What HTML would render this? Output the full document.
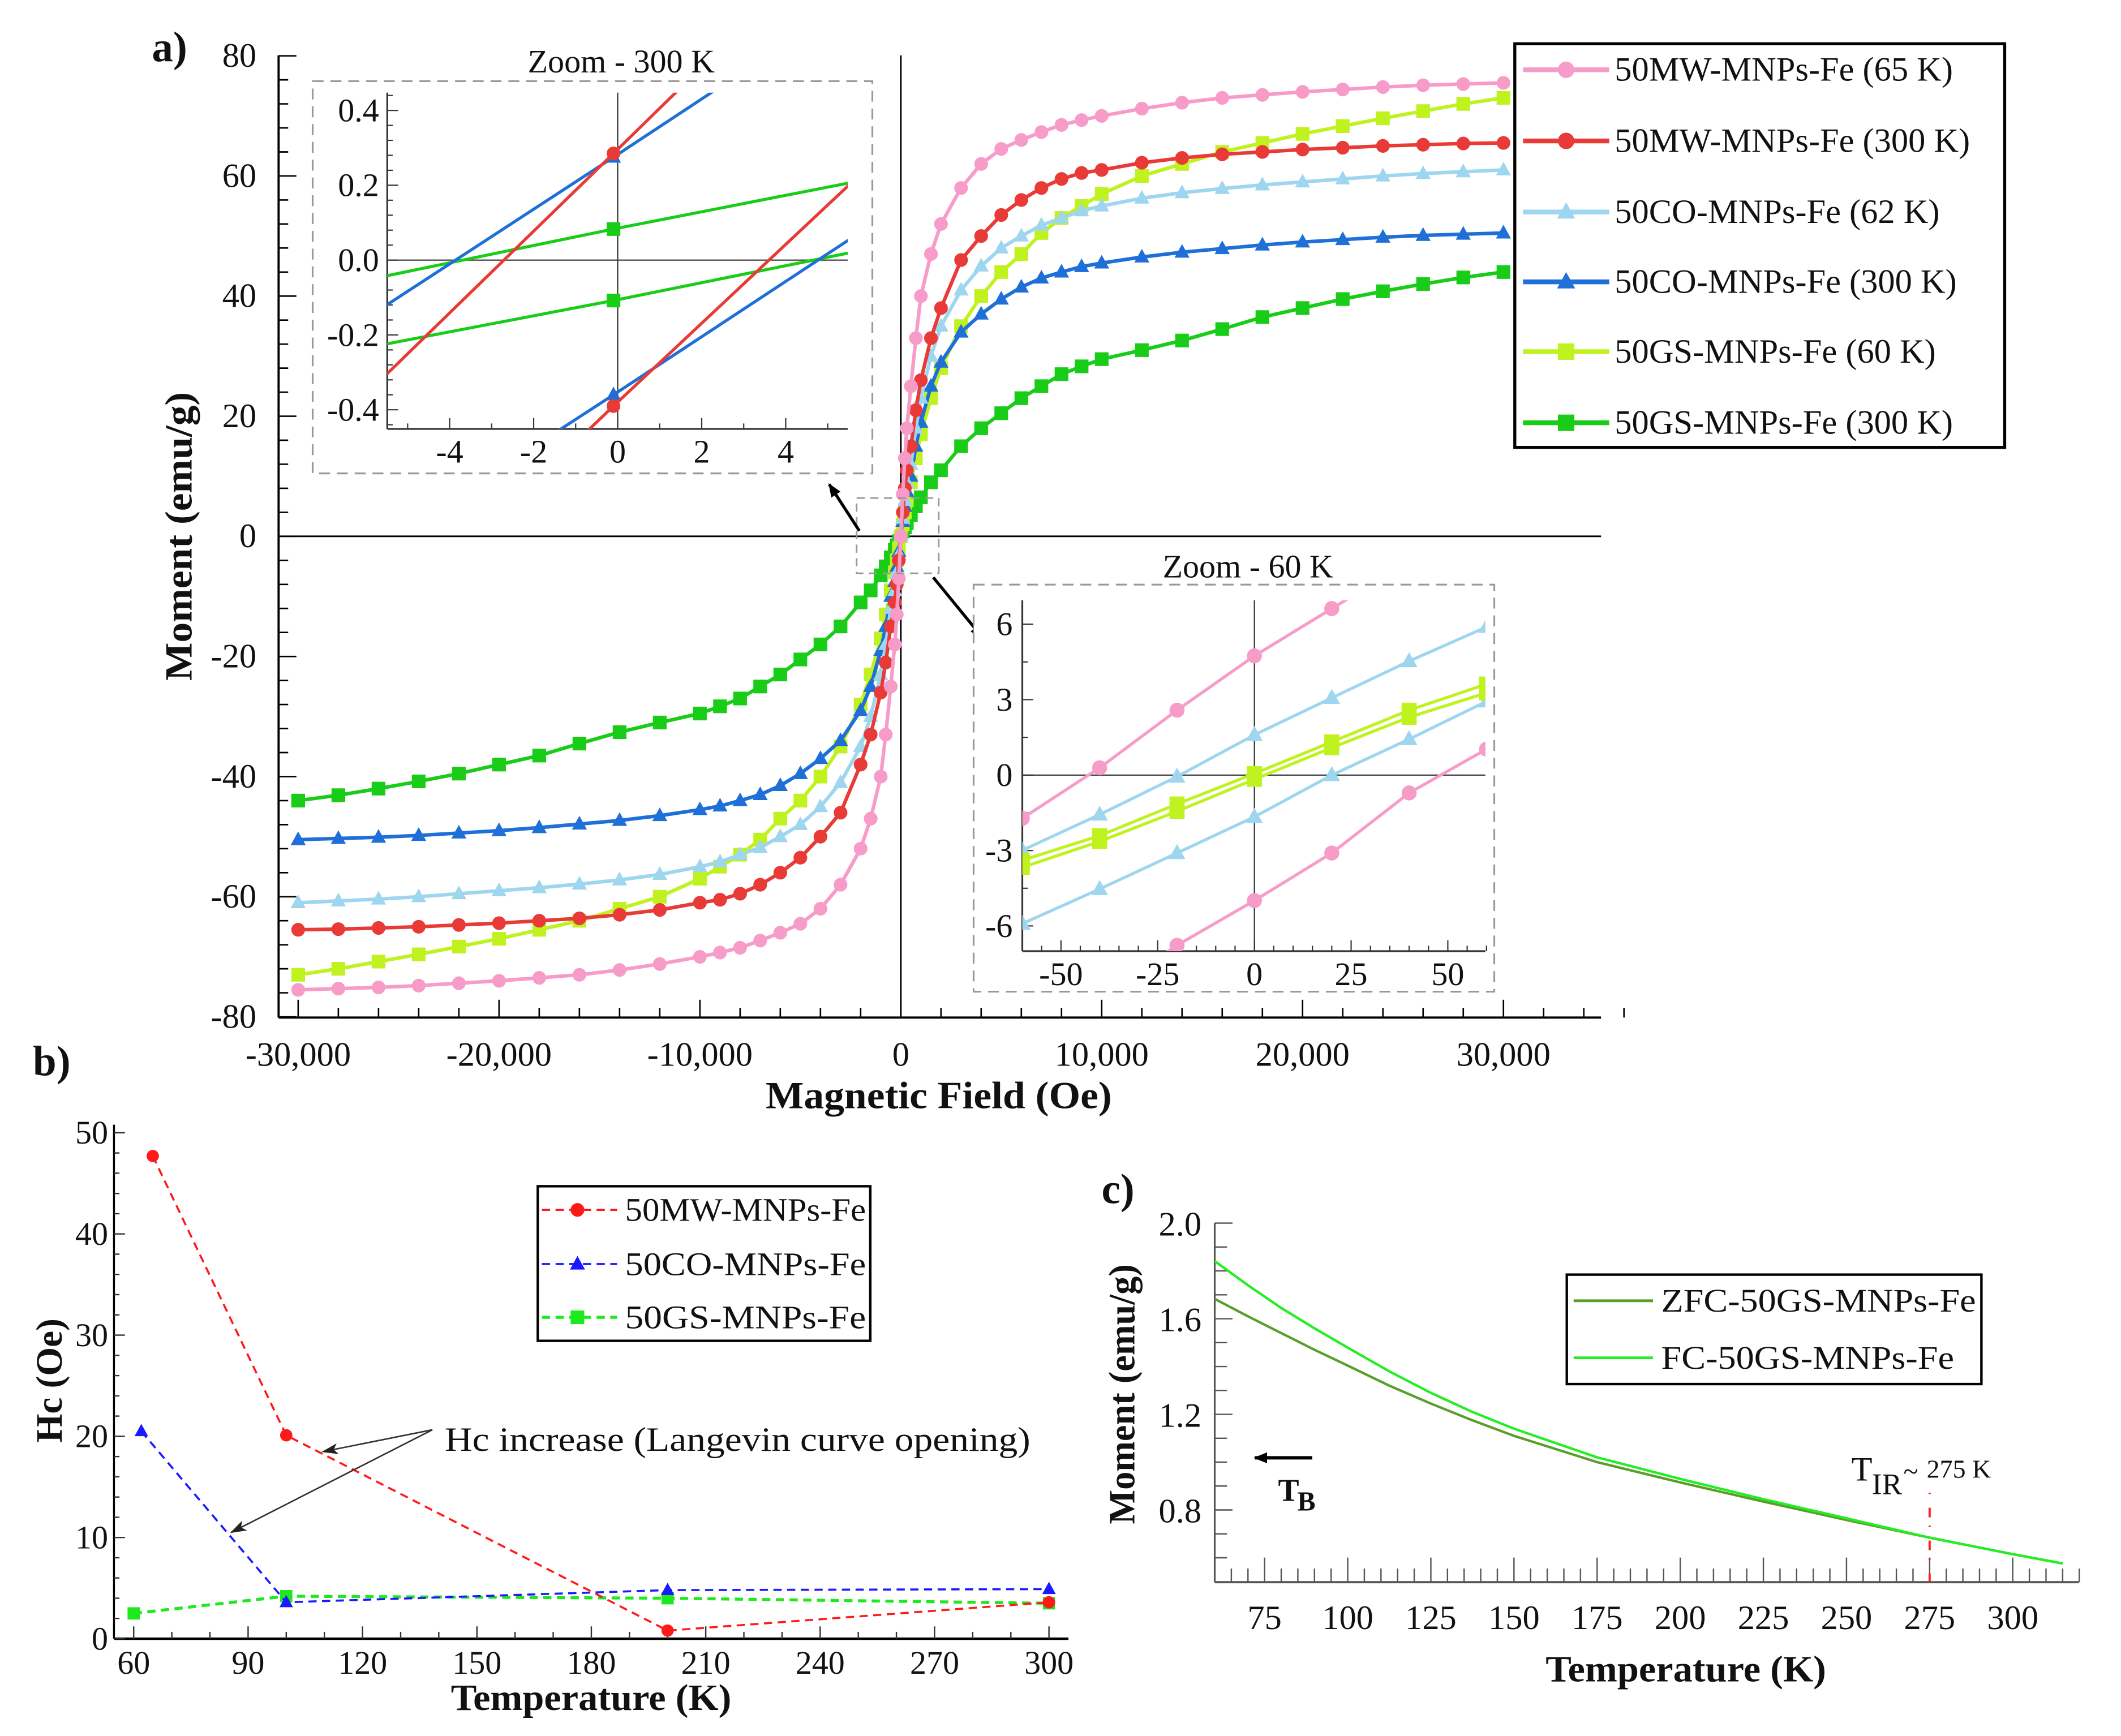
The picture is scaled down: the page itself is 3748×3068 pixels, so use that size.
<!DOCTYPE html>
<html><head><meta charset="utf-8"><style>
html,body{margin:0;padding:0;background:#fff;}
svg, svg text{font-family:"Liberation Serif","DejaVu Serif",serif;}
</style></head><body>
<svg id="chart" xmlns="http://www.w3.org/2000/svg" width="3748" height="3063" viewBox="0 0 1550 1266.75" preserveAspectRatio="none" font-family="Liberation Serif, DejaVu Serif, serif">
<defs>
<clipPath id="clip1"><rect x="283" y="67.7" width="336.5" height="245.8"/></clipPath>
<clipPath id="clip2"><rect x="747.1" y="438.8" width="338.4" height="256.4"/></clipPath>
<marker id="ah" markerWidth="10" markerHeight="8" refX="9" refY="4" orient="auto" markerUnits="userSpaceOnUse"><path d="M0,0 L10,4 L0,8 Z" fill="#000"/></marker>
<marker id="ahs" markerWidth="12" markerHeight="8" refX="11" refY="4" orient="auto" markerUnits="userSpaceOnUse"><path d="M0,0 L12,4 L0,8 L3,4 Z" fill="#222"/></marker>
</defs>
<g id="g"></g>
</svg>
<script>
// ===== Panel a data =====
const fieldOe = [0,100,200,300,500,750,1000,1500,2000,3000,4000,5000,6000,7000,8000,9000,10000,12000,14000,16000,18000,20000,22000,24000,26000,28000,30000];
const mw65 = [0,7,13,18,25,33,40,47,52,58,62,64.5,66,67.3,68.5,69.3,70,71.2,72.2,73,73.5,74,74.4,74.8,75.1,75.3,75.5];
const mw300 = [0,4,8,11,15,21,26,33,38,46,50,53.5,56,58,59.5,60.5,61,62.2,63,63.6,64,64.4,64.7,65,65.2,65.4,65.5];
const co62 = [0,3,6,9,12,18,23,30,35,41,45,48,50,51.8,53,54.2,55,56.3,57.2,57.9,58.5,59,59.5,60,60.4,60.7,61];
const co300 = [0,2.5,5,7.5,10,15,19,25,29,34,37,39.5,41.5,43,44,44.9,45.5,46.5,47.3,47.9,48.5,49,49.4,49.8,50.1,50.3,50.5];
const gs60 = [0,2,4,6,9,13,17,23,28,35,40,44,47,50.5,53,55,57,60,62,64,65.5,67,68.3,69.6,70.8,72,73];
const gs300 = [0,0.8,1.5,2.2,3.5,5,6.5,9,11,15,18,20.5,23,25,27,28.3,29.5,31,32.6,34.5,36.5,38,39.5,40.8,42,43.1,44];
const aXTicks = [-30000,-20000,-10000,0,10000,20000,30000];
const aXTickLabels = ['-30,000','-20,000','-10,000','0','10,000','20,000','30,000'];
const aYTicks = [80,60,40,20,0,-20,-40,-60,-80];
const legendALabels = ['50MW-MNPs-Fe (65 K)','50MW-MNPs-Fe (300 K)','50CO-MNPs-Fe (62 K)','50CO-MNPs-Fe (300 K)','50GS-MNPs-Fe (60 K)','50GS-MNPs-Fe (300 K)'];
// inset 300 K
const in1Field = [-5.5,-0.1,5.5];
const in1RedUp = [-0.305,0.285,0.90];
const in1RedLow = [-0.97,-0.39,0.20];
const in1BlueUp = [-0.12,0.275,0.69];
const in1BlueLow = [-0.754,-0.36,0.054];
const in1GreenUp = [-0.042,0.083,0.206];
const in1GreenLow = [-0.224,-0.108,0.019];
const in1XTicks = [-4,-2,0,2,4];
const in1YTicks = [0.4,0.2,0.0,-0.2,-0.4];
// inset 60 K
const in2Field = [-60,-40,-20,0,20,40,60];
const in2PinkUp = [-1.72,0.29,2.58,4.74,6.62,8.5,10.4];
const in2PinkLow = [-10.8,-8.8,-6.77,-4.99,-3.1,-0.71,1.03];
const in2LbUp = [-2.99,-1.57,-0.06,1.6,3.07,4.53,5.89];
const in2LbLow = [-5.91,-4.53,-3.1,-1.66,0,1.43,2.93];
const in2YgUp = [-3.39,-2.41,-1.15,0.06,1.32,2.58,3.62];
const in2YgLow = [-3.67,-2.64,-1.44,-0.17,1.09,2.30,3.27];
const in2XTicks = [-50,-25,0,25,50];
const in2YTicks = [6,3,0,-3,-6];
// ===== Panel b data =====
const bTempMW = [65,100,200,300];
const bHcMW = [47.7,20.1,0.8,3.6];
const bTempCO = [62,100,200,300];
const bHcCO = [20.5,3.6,4.8,4.9];
const bTempGS = [60,100,200,300];
const bHcGS = [2.5,4.2,4.0,3.5];
const bXTicks = [60,90,120,150,180,210,240,270,300];
const bYTicks = [0,10,20,30,40,50];
const legendBLabels = ['50MW-MNPs-Fe','50CO-MNPs-Fe','50GS-MNPs-Fe'];
// ===== Panel c data =====
const cTemp = [60,70,80,90,100,112.5,125,137.5,150,175,200,225,250,275,300,315];
const cFC = [1.841,1.74,1.645,1.56,1.479,1.38,1.29,1.21,1.14,1.02,0.93,0.845,0.765,0.684,0.615,0.576];
const cZFC = [1.683,1.61,1.54,1.47,1.404,1.32,1.245,1.175,1.11,1.0,0.915,0.835,0.758,0.684,0.615,0.576];
const cXTicks = [75,100,125,150,175,200,225,250,275,300];
const cYTicks = [2.0,1.6,1.2,0.8];

const NS='http://www.w3.org/2000/svg';
const FONT='"Liberation Serif", "DejaVu Serif", serif';
const root=document.getElementById('g');
function mk(tag,attrs,parent){const e=document.createElementNS(NS,tag);for(const k in attrs)e.setAttribute(k,attrs[k]);(parent||root).appendChild(e);return e;}
function txt(x,y,s,size,opts,parent){const o=Object.assign({x:x,y:y,'font-size':size,fill:'#111','font-family':FONT},opts||{});const t=mk('text',o,parent);t.style.fontFamily=FONT;t.textContent=s;return t;}
function marker(shape,x,y,r,color,parent){
  let e;
  if(shape==='circle') e=mk('circle',{cx:x,cy:y,r:r,fill:color},parent);
  else if(shape==='tri') e=mk('polygon',{points:`${x},${y-r*1.2} ${x-r*1.1},${y+r*0.8} ${x+r*1.1},${y+r*0.8}`,fill:color},parent);
  else e=mk('rect',{x:x-r,y:y-r,width:2*r,height:2*r,fill:color},parent);
  return e;
}

// ================= PANEL A =================
const ax=H=>658.3+H*0.01468;
const ay=M=>392-M*4.39;
let el;
el=txt(111,44.6,'a)',31,{'font-weight':'bold'});


el=mk('line',{x1:203.6,y1:40.5,x2:203.6,y2:743.7,stroke:'#000','stroke-width':1.6});


el=mk('line',{x1:203.6,y1:743.7,x2:1170,y2:743.7,stroke:'#000','stroke-width':1.6});


el=mk('line',{x1:203.6,y1:ay(0),x2:1170,y2:ay(0),stroke:'#000','stroke-width':1.2});


el=mk('line',{x1:ax(0),y1:40.5,x2:ax(0),y2:743.7,stroke:'#000','stroke-width':1.2});


for(let v=-80;v<=80;v+=4){const maj=v%20===0;const t=mk('line',{x1:203.6,y1:ay(v),x2:203.6+(maj?13:7),y2:ay(v),stroke:'#000','stroke-width':1.1});}
aYTicks.forEach(v=>{const t=txt(187.4,ay(v)+8,String(v),25,{'text-anchor':'end'});});
for(let h=-30000;h<=36000;h+=2000){const maj=h%10000===0;const t=mk('line',{x1:ax(h),y1:743.7,x2:ax(h),y2:743.7-(maj?13:7),stroke:'#000','stroke-width':1.1});}
aXTicks.forEach((h,i)=>{const t=txt(ax(h),779,aXTickLabels[i],25,{'text-anchor':'middle'});});
el=txt(686,810,'Magnetic Field (Oe)',28,{'text-anchor':'middle','font-weight':'bold',textLength:253,lengthAdjust:'spacingAndGlyphs'});


el=txt(0,0,'Moment (emu/g)',28,{'text-anchor':'middle','font-weight':'bold',transform:'translate(140,392) rotate(-90)',textLength:211,lengthAdjust:'spacingAndGlyphs'});



const seriesA=[
 {name:'mw65',data:mw65,color:'#f79bc8',shape:'circle'},
 {name:'mw300',data:mw300,color:'#e83a36',shape:'circle'},
 {name:'co62',data:co62,color:'#9ed6f0',shape:'tri'},
 {name:'co300',data:co300,color:'#1f6fd8',shape:'tri'},
 {name:'gs60',data:gs60,color:'#bff21f',shape:'sq'},
 {name:'gs300',data:gs300,color:'#18cc18',shape:'sq'}
];
[5,4,3,2,1,0].forEach(si=>{
  const s=seriesA[si];
  const pts=[];
  for(let i=fieldOe.length-1;i>0;i--) pts.push([-fieldOe[i],-s.data[i]]);
  for(let i=0;i<fieldOe.length;i++) pts.push([fieldOe[i],s.data[i]]);
  const g=mk('g',{});
  
  
  const pl=mk('polyline',{points:pts.map(p=>ax(p[0])+','+ay(p[1])).join(' '),fill:'none',stroke:s.color,'stroke-width':2.6},g);
  
  
  pts.forEach(p=>{const m=marker(s.shape,ax(p[0]),ay(p[1]),5,s.color,g);});
});

el=mk('rect',{x:1107,y:32,width:358,height:295,fill:'#fff',stroke:'#000','stroke-width':2.2});


const legYs=[51,103,155,206,257,309];
seriesA.forEach((s,i)=>{
  const y=legYs[i];
  const l=mk('line',{x1:1113,y1:y,x2:1176,y2:y,stroke:s.color,'stroke-width':3.5});
  
  
  const m=marker(s.shape,1144.5,y,6,s.color);
  
  
  const t=txt(1180,y+8,legendALabels[i],25,{});
  
  
});

el=mk('rect',{x:626,y:364,width:60,height:55,fill:'none',stroke:'#999','stroke-width':1.2,'stroke-dasharray':'6,4'});


el=mk('line',{x1:628,y1:388,x2:606,y2:354,stroke:'#000','stroke-width':2.2,'marker-end':'url(#ah)'});


el=mk('line',{x1:682,y1:422,x2:718,y2:466,stroke:'#000','stroke-width':2.2,'marker-end':'url(#ah)'});



// ---- inset 1 ----
const i1x=H=>451.4+H*30.7;
const i1y=M=>190.1-M*273.5;
const in1=mk('g',{});


el=mk('rect',{x:228.5,y:59.3,width:409,height:286.7,fill:'#fff',stroke:'#999','stroke-width':1.3,'stroke-dasharray':'8,5'},in1);


el=txt(454,53,'Zoom - 300 K',24,{'text-anchor':'middle'},in1);


el=mk('line',{x1:283,y1:67.7,x2:283,y2:313.5,stroke:'#333','stroke-width':1.3},in1);


el=mk('line',{x1:283,y1:313.5,x2:619.5,y2:313.5,stroke:'#333','stroke-width':1.3},in1);


el=mk('line',{x1:283,y1:i1y(0),x2:619.5,y2:i1y(0),stroke:'#333','stroke-width':0.9},in1);


el=mk('line',{x1:i1x(0),y1:67.7,x2:i1x(0),y2:313.5,stroke:'#333','stroke-width':0.9},in1);


for(let v=-0.44;v<=0.441;v+=0.04){const maj=Math.abs(Math.round(v*100)%20)===0;const t=mk('line',{x1:283,y1:i1y(v),x2:283+(maj?8:4),y2:i1y(v),stroke:'#333','stroke-width':0.9},in1);}
for(let h=-5;h<=5;h+=1){const maj=h%2===0;const t=mk('line',{x1:i1x(h),y1:313.5,x2:i1x(h),y2:313.5-(maj?8:4),stroke:'#333','stroke-width':0.9},in1);}
in1YTicks.forEach(v=>{const t=txt(277,i1y(v)+8,v.toFixed(1),24,{'text-anchor':'end'},in1);});
in1XTicks.forEach(h=>{const t=txt(i1x(h),338,String(h),24,{'text-anchor':'middle'},in1);});
const in1Series=[['green-up',in1GreenUp,'#18cc18','sq'],['green-low',in1GreenLow,'#18cc18','sq'],['blue-up',in1BlueUp,'#1f6fd8','tri'],['blue-low',in1BlueLow,'#1f6fd8','tri'],['red-up',in1RedUp,'#e83a36','circle'],['red-low',in1RedLow,'#e83a36','circle']];
const c1=mk('g',{'clip-path':'url(#clip1)'},in1);


in1Series.forEach(s=>{
  const pl=mk('polyline',{points:in1Field.map((h,i)=>i1x(h)+','+i1y(s[1][i])).join(' '),fill:'none',stroke:s[2],'stroke-width':2.2},c1);
  
  
  const m=marker(s[3],i1x(in1Field[1]),i1y(s[1][1]),5,s[2],c1);
  
  
});

// ---- inset 2 ----
const i2x=H=>916.7+H*2.827;
const i2y=M=>566.5-M*18.38;
const in2=mk('g',{});


el=mk('rect',{x:711.5,y:427.3,width:380.5,height:297.5,fill:'#fff',stroke:'#999','stroke-width':1.3,'stroke-dasharray':'8,5'},in2);


el=txt(912,422,'Zoom - 60 K',24,{'text-anchor':'middle'},in2);


el=mk('line',{x1:747.1,y1:438.8,x2:747.1,y2:695.2,stroke:'#333','stroke-width':1.3},in2);


el=mk('line',{x1:747.1,y1:695.2,x2:1085.5,y2:695.2,stroke:'#333','stroke-width':1.3},in2);


el=mk('line',{x1:747.1,y1:i2y(0),x2:1085.5,y2:i2y(0),stroke:'#333','stroke-width':0.9},in2);


el=mk('line',{x1:i2x(0),y1:438.8,x2:i2x(0),y2:695.2,stroke:'#333','stroke-width':0.9},in2);


for(let v=-6;v<=6;v+=1.5){const maj=v%3===0;const t=mk('line',{x1:747.1,y1:i2y(v),x2:747.1+(maj?8:4),y2:i2y(v),stroke:'#333','stroke-width':0.9},in2);}
for(let h=-55;h<=60;h+=5){const maj=h%25===0;const t=mk('line',{x1:i2x(h),y1:695.2,x2:i2x(h),y2:695.2-(maj?8:4),stroke:'#333','stroke-width':0.9},in2);}
in2YTicks.forEach(v=>{const t=txt(740,i2y(v)+8,String(v),24,{'text-anchor':'end'},in2);});
in2XTicks.forEach(h=>{const t=txt(i2x(h),720,String(h),24,{'text-anchor':'middle'},in2);});
const in2Series=[['pink-up',in2PinkUp,'#f79bc8','circle'],['pink-low',in2PinkLow,'#f79bc8','circle'],['lightblue-up',in2LbUp,'#9ed6f0','tri'],['lightblue-low',in2LbLow,'#9ed6f0','tri'],['yellowgreen-up',in2YgUp,'#bff21f','sq'],['yellowgreen-low',in2YgLow,'#bff21f','sq']];
const c2=mk('g',{'clip-path':'url(#clip2)'},in2);


in2Series.forEach(s=>{
  const pl=mk('polyline',{points:in2Field.map((h,i)=>i2x(h)+','+i2y(s[1][i])).join(' '),fill:'none',stroke:s[2],'stroke-width':2.2},c2);
  
  
  in2Field.forEach((h,i)=>{const m=marker(s[3],i2x(h),i2y(s[1][i]),5.5,s[2],c2);});
});

// ================= PANEL B =================
const bx=T=>97.7+(T-60)*2.787;
const by=H=>1197.7-H*7.396;
el=txt(24,786,'b)',31,{'font-weight':'bold'});


el=mk('line',{x1:83.3,y1:822,x2:83.3,y2:1197.7,stroke:'#000','stroke-width':1.4});


el=mk('line',{x1:83.3,y1:1197.7,x2:780.8,y2:1197.7,stroke:'#000','stroke-width':1.8});


for(let v=0;v<=50;v+=2){const maj=v%10===0;const t=mk('line',{x1:83.3,y1:by(v),x2:83.3+(maj?8:4),y2:by(v),stroke:'#333','stroke-width':1});}
for(let T=60;T<=305;T+=10){const maj=(T-60)%30===0;const t=mk('line',{x1:bx(T),y1:1197.7,x2:bx(T),y2:1197.7-(maj?9:5),stroke:'#333','stroke-width':1});}
bYTicks.forEach(v=>{const t=txt(79,by(v)+8,String(v),24,{'text-anchor':'end'});});
bXTicks.forEach(T=>{const t=txt(bx(T),1223.3,String(T),24,{'text-anchor':'middle'});});
el=txt(432,1249.7,'Temperature (K)',27,{'text-anchor':'middle','font-weight':'bold',textLength:205,lengthAdjust:'spacingAndGlyphs'});


el=txt(0,0,'Hc (Oe)',27,{'text-anchor':'middle','font-weight':'bold',transform:'translate(45,1009) rotate(-90)'});


const seriesB=[['mw',bTempMW,bHcMW,'#ff1a1a','circle'],['co',bTempCO,bHcCO,'#1a1aff','tri'],['gs',bTempGS,bHcGS,'#1ee81e','sq']];
[2,1,0].forEach(i=>{
  const s=seriesB[i];
  const g=mk('g',{});
  
  
  const pl=mk('polyline',{points:s[1].map((T,j)=>bx(T)+','+by(s[2][j])).join(' '),fill:'none',stroke:s[3],'stroke-width':s[0]==='gs'?2.2:1.5,'stroke-dasharray':'6,4'},g);
  
  
  s[1].forEach((T,j)=>{const m=marker(s[4],bx(T),by(s[2][j]),4.5,s[3],g);});
});
el=mk('rect',{x:393,y:867,width:243,height:113,fill:'#fff',stroke:'#000','stroke-width':1.8});


const legBYs=[884.3,923.9,962.8];
seriesB.forEach((s,i)=>{
  const y=legBYs[i];
  const l=mk('line',{x1:396,y1:y,x2:451,y2:y,stroke:s[3],'stroke-width':s[0]==='gs'?2.2:1.5,'stroke-dasharray':'6,4'});
  
  
  const m=marker(s[4],422,y,5,s[3]);
  
  
  const t=txt(456.8,y+8,legendBLabels[i],24,{textLength:176,lengthAdjust:'spacingAndGlyphs'});
  
  
});
el=txt(325,1060.4,'Hc increase (Langevin curve opening)',25,{textLength:428,lengthAdjust:'spacingAndGlyphs'});


el=mk('line',{x1:316,y1:1045,x2:236,y2:1061,stroke:'#333','stroke-width':1.1,'marker-end':'url(#ahs)'});


el=mk('line',{x1:316,y1:1045,x2:169,y2:1120,stroke:'#333','stroke-width':1.1,'marker-end':'url(#ahs)'});



// ================= PANEL C =================
const cx=T=>887.7+(T-60)*2.43;
const cy=M=>1103.6-(M-0.8)*174.7;
el=txt(805,879.5,'c)',31,{'font-weight':'bold'});


el=mk('line',{x1:887.7,y1:894,x2:887.7,y2:1156.4,stroke:'#555','stroke-width':1.3});


el=mk('line',{x1:887.7,y1:1156.4,x2:1519.3,y2:1156.4,stroke:'#555','stroke-width':1.6});


for(let k=0;k<=14;k++){const v=2.0-k*0.1;const maj=k%4===0;const t=mk('line',{x1:887.7,y1:cy(v),x2:887.7+(maj?13:9),y2:cy(v),stroke:'#555','stroke-width':1});}
for(let T=65;T<=320;T+=5){const maj=T%25===0;const t=mk('line',{x1:cx(T),y1:1156.4,x2:cx(T),y2:1156.4-(maj?18:10),stroke:'#555','stroke-width':1});}
cYTicks.forEach(v=>{const t=txt(878,cy(v)+9,v.toFixed(1),25,{'text-anchor':'end'});});
cXTicks.forEach(T=>{const t=txt(cx(T),1190.7,String(T),25,{'text-anchor':'middle'});});
el=txt(1232,1229,'Temperature (K)',27,{'text-anchor':'middle','font-weight':'bold',textLength:205,lengthAdjust:'spacingAndGlyphs'});


el=txt(0,0,'Moment (emu/g)',27,{'text-anchor':'middle','font-weight':'bold',transform:'translate(829,1019) rotate(-90)',textLength:190,lengthAdjust:'spacingAndGlyphs'});


el=mk('polyline',{points:cTemp.map((T,i)=>cx(T)+','+cy(cZFC[i])).join(' '),fill:'none',stroke:'#5a9e2a','stroke-width':1.8});


el=mk('polyline',{points:cTemp.map((T,i)=>cx(T)+','+cy(cFC[i])).join(' '),fill:'none',stroke:'#22ee22','stroke-width':1.8});


el=mk('rect',{x:1145,y:931.6,width:303,height:80,fill:'#fff',stroke:'#000','stroke-width':1.8});


el=mk('line',{x1:1150,y1:950.7,x2:1208,y2:950.7,stroke:'#5a9e2a','stroke-width':2});


el=txt(1214,958.7,'ZFC-50GS-MNPs-Fe',24,{textLength:230,lengthAdjust:'spacingAndGlyphs'});


el=mk('line',{x1:1150,y1:992.4,x2:1208,y2:992.4,stroke:'#22ee22','stroke-width':2});


el=txt(1214,1000.4,'FC-50GS-MNPs-Fe',24,{textLength:214,lengthAdjust:'spacingAndGlyphs'});


el=mk('line',{x1:959,y1:1065.5,x2:917,y2:1065.5,stroke:'#000','stroke-width':2.5,'marker-end':'url(#ah)'});


el=txt(934,1097,'T',23,{'font-weight':'bold'});


el=txt(948,1104,'B',20,{'font-weight':'bold'});


el=txt(1353,1082,'T',25,{});


el=txt(1368,1092,'IR',22,{});


el=txt(1391,1082,'~',20,{});


el=txt(1408,1080,'275 K',19,{});


el=mk('line',{x1:cx(275),y1:1091,x2:cx(275),y2:1156,stroke:'#ff1a1a','stroke-width':1.6,'stroke-dasharray':'1,10,7,6'});


</script>
</body></html>
